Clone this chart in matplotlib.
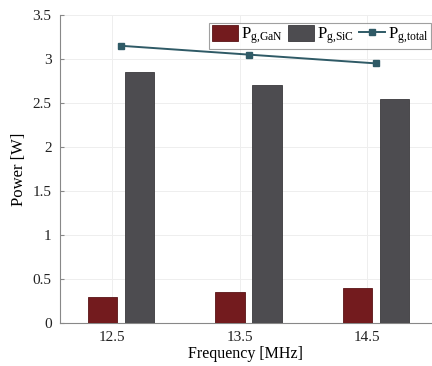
import numpy as np
import matplotlib.pyplot as plt

plt.rcParams['font.family'] = ['Liberation Serif', 'DejaVu Serif']
plt.rcParams['mathtext.fontset'] = 'custom'
plt.rcParams['mathtext.rm'] = 'Liberation Serif'
plt.rcParams['mathtext.it'] = 'Liberation Serif:italic'

freq_labels = ['12.5', '13.5', '14.5']
p_gan = [0.30, 0.35, 0.40]
p_sic = [2.85, 2.70, 2.55]
p_total = [3.15, 3.05, 2.95]

c_gan = '#731b1e'
c_sic = '#4d4c50'
c_tot = '#2f5a66'

x = np.arange(len(freq_labels))
w = 0.23
off = 0.145

fig = plt.figure(figsize=(4.32, 3.66), dpi=100)
ax = fig.add_axes([60 / 432, 1 - 323 / 366, 1 - 60 / 432, 308 / 366])

b1 = ax.bar(x - off, p_gan, w, color=c_gan, edgecolor='#5a1416', linewidth=0.6,
            label=r'P$_{\mathrm{g{,}GaN}}$', zorder=3)
b2 = ax.bar(x + off, p_sic, w, color=c_sic, edgecolor='#3a393c', linewidth=0.6,
            label=r'P$_{\mathrm{g{,}SiC}}$', zorder=3)
ln, = ax.plot(x, p_total, color=c_tot, lw=1.4, marker='s', ms=4,
              mfc=c_tot, mec=c_tot, label=r'P$_{\mathrm{g{,}total}}$', zorder=4)

ax.set_xlim(-0.48, 2.44)
ax.set_ylim(0, 3.5)
ax.set_xticks(x - 0.07)
ax.set_xticklabels(freq_labels)
ax.set_yticks(np.arange(0, 3.51, 0.5))
ax.set_yticklabels(['0', '0.5', '1', '1.5', '2', '2.5', '3', '3.5'])
ax.tick_params(direction='in', length=3, labelsize=11, colors='#888888',
               labelcolor='#222222', pad=6)
ax.grid(True, color='#eeeeee', lw=0.7, zorder=0)

for s in ['top', 'right']:
    ax.spines[s].set_visible(False)
for s in ['left', 'bottom']:
    ax.spines[s].set_color('#888888')
    ax.spines[s].set_linewidth(0.8)

ax.set_xlabel('Frequency [MHz]', fontsize=11.5, labelpad=1)
ax.set_ylabel('Power [W]', fontsize=12, labelpad=4)

leg = ax.legend([b1, b2, ln], [b1.get_label(), b2.get_label(), ln.get_label()],
                loc='upper right', ncol=3, fontsize=12, frameon=True,
                fancybox=False, edgecolor='#888888', handlelength=1.55,
                handleheight=1.1, handletextpad=0.2, columnspacing=0.3,
                borderpad=0.15, borderaxespad=0.0,
                bbox_to_anchor=(0.998, 0.975))
leg.get_frame().set_linewidth(0.8)

fig.savefig('out.png', dpi=100)
